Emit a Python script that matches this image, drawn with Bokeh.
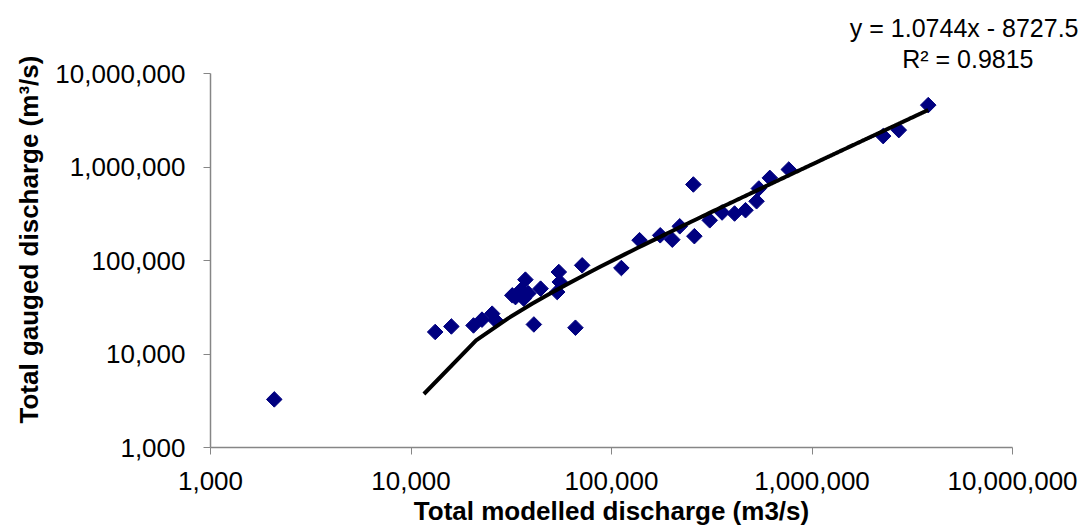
import numpy as np
from bokeh.plotting import figure
from bokeh.models import ColumnDataSource, NumeralTickFormatter, Title
from bokeh.embed import file_html
from bokeh.resources import INLINE

# Data (modelled vs gauged discharge)
modelled = [2080, 13200, 15900, 20500, 22600, 25400, 26400, 37200, 35200, 33200,
            36500, 32000, 38500, 44300, 54600, 55200, 53600, 71400, 41000, 66100,
            112000, 138000, 175000, 201000, 219000, 256000, 259000, 309000, 356000,
            411000, 466000, 529000, 543000, 616000, 766000, 2265000, 2710000, 3800000]
gauged = [3270, 17200, 19700, 20200, 23300, 27000, 22900, 62400, 48000, 40600,
          39100, 42400, 44500, 50000, 75300, 58900, 46000, 88800, 20700, 19100,
          83100, 165000, 186000, 167000, 232000, 650000, 182000, 269000, 326000,
          318000, 345000, 430000, 589000, 765000, 940000, 2140000, 2480000, 4590000]

# Linear trendline as reported on the chart
slope = 1.0744
intercept = -8727.5
r_squared = 0.9815
n_trend = 400

tick_values = [1000, 10000, 100000, 1000000, 10000000]

FONT = "Liberation Sans"

p = figure(width=1089, height=525, x_axis_type="log", y_axis_type="log",
           x_range=(1000, 10000000), y_range=(1000, 10000000),
           output_backend="svg", toolbar_location=None,
           frame_width=802, frame_height=374,
           min_border_left=210, min_border_right=77,
           min_border_top=73, min_border_bottom=78)
p.outline_line_color = None
p.xgrid.visible = False
p.ygrid.visible = False
p.background_fill_color = "white"
p.border_fill_color = "white"

src = ColumnDataSource(dict(x=modelled, y=gauged))
p.scatter("x", "y", source=src, marker="square", size=11, angle=np.pi / 4,
          fill_color="#000080", line_color="#000080")

xt = np.linspace(min(modelled), max(modelled), n_trend)
yt = slope * xt + intercept
mask = yt > 0
p.line(xt[mask], yt[mask], line_color="black", line_width=4)

for ax in (p.xaxis[0], p.yaxis[0]):
    ax.ticker = tick_values
    ax.formatter = NumeralTickFormatter(format="0,0")
    ax.axis_line_color = "#868686"
    ax.axis_line_width = 1.5
    ax.major_tick_line_color = "#868686"
    ax.major_tick_in = 0
    ax.major_tick_out = 7
    ax.minor_tick_line_color = None
    ax.major_label_text_font = FONT
    ax.major_label_text_font_size = "26px"
    ax.major_label_text_color = "black"
    ax.axis_label_text_font = FONT
    ax.axis_label_text_font_size = "26px"
    ax.axis_label_text_font_style = "bold"
    ax.axis_label_text_color = "black"

p.xaxis.axis_label = "Total modelled discharge (m3/s)"
p.xaxis.major_label_standoff = 17
p.xaxis.axis_label_standoff = 3
p.yaxis.major_label_standoff = 18

# y-axis title as a side title so it can be positioned like the original
t_y = Title(text="Total gauged discharge (m\u00b3/s)", align="left", offset=24,
            standoff=18, text_font=FONT, text_font_size="26px",
            text_font_style="bold", text_color="black")
p.add_layout(t_y, "left")

# Trendline equation, two lines above the plot at the right
t_r2 = Title(text=f"R\u00b2 = {r_squared}", align="right", offset=-21,
             standoff=2, text_font=FONT, text_font_size="25px",
             text_font_style="normal", text_color="black")
t_eq = Title(text=f"y = {slope}x - {abs(intercept)}", align="right", offset=-66,
             standoff=0, text_font=FONT, text_font_size="25px",
             text_font_style="normal", text_color="black")
p.add_layout(t_r2, "above")
p.add_layout(t_eq, "above")

open("out.html", "w").write(file_html(p, INLINE))
